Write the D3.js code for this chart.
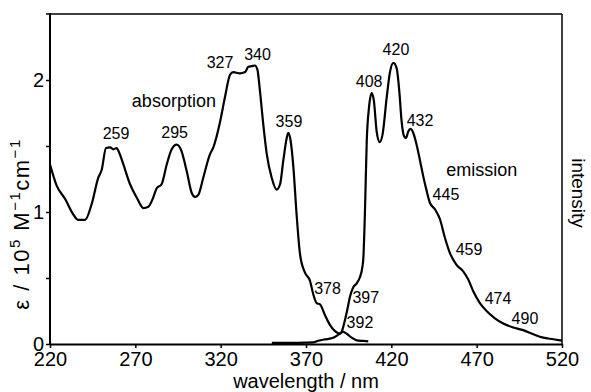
<!DOCTYPE html>
<html>
<head>
<meta charset="utf-8">
<script src="https://cdn.jsdelivr.net/npm/d3@7"></script>
<style>
body { margin: 0; background: #fff; }
text { font-family: "Liberation Sans", Arial, sans-serif; fill: #000; }
</style>
</head>
<body>
<div id="chart"></div>
<script>
// absorption spectrum (epsilon / 10^5 M-1 cm-1)
var absNm  = [220, 223.9, 228.8, 233.7, 236.6, 240.5, 244.4, 248.3, 250.3, 252.8, 255.2, 257.1, 259.1, 260.2,
              263, 266.9, 270.8, 274.7, 277.6, 280.5, 282.5, 285.4, 288.4, 291.3, 294.2, 297.1, 300.1, 303,
              305, 306.9, 309.8, 313.7, 315.7, 319.6, 322.5, 325.5, 327.4, 331.3, 334.3, 336.2, 338.2, 340.1,
              341.5, 343, 345, 347, 349.9, 352.8, 354.8, 356.7, 358.7, 359.6, 361, 362.6, 364.5, 366.5,
              369.4, 372.3, 374.3, 376.2, 378.2, 381.1, 384, 387, 389.9, 391.5, 393.8, 396.8, 399.7, 403.6, 406.5];
var absVal = [1.36, 1.20, 1.10, 0.98, 0.94, 0.94, 1.06, 1.26, 1.32, 1.485, 1.49, 1.475, 1.485, 1.46,
              1.36, 1.21, 1.11, 1.03, 1.04, 1.11, 1.18, 1.21, 1.36, 1.475, 1.51, 1.46, 1.31, 1.146,
              1.114, 1.13, 1.26, 1.437, 1.49, 1.68, 1.87, 2.04, 2.06, 2.05, 2.06, 2.10, 2.105, 2.11,
              2.08, 1.92, 1.66, 1.44, 1.26, 1.17, 1.21, 1.39, 1.56, 1.60, 1.54, 1.34, 0.98, 0.68,
              0.54, 0.48, 0.375, 0.31, 0.30, 0.22, 0.145, 0.098, 0.078, 0.093, 0.078, 0.048, 0.028, 0.023, 0.02];

// emission spectrum (arbitrary intensity, same axis)
var emNm  = [350, 360, 370, 374, 377.2, 381, 385, 388.4, 390.9, 392.8, 394.2, 395.8, 397.7, 399.7, 401.4,
             403, 403.6, 404.6, 405.6, 406.9, 408.5, 409.8, 411.4, 413.2, 414.9, 417.3, 419.2, 421.2, 423.1,
             424.7, 426, 427.4, 428.6, 429.9, 431.3, 432.8, 434.8, 436.8, 438.7, 440.7, 442.6, 445.6, 448.5,
             451.4, 454.3, 458.2, 462.1, 465, 468, 471.9, 475.8, 480.7, 485.6, 491.4, 497.3, 503.2, 509, 514.9, 520];
var emVal = [0.008, 0.008, 0.01, 0.012, 0.025, 0.035, 0.043, 0.066, 0.093, 0.18, 0.26, 0.36, 0.43, 0.46, 0.50,
             0.58, 0.65, 1.03, 1.54, 1.79, 1.90, 1.84, 1.61, 1.53, 1.59, 1.87, 2.06, 2.13, 2.09,
             1.91, 1.69, 1.575, 1.56, 1.61, 1.63, 1.60, 1.51, 1.39, 1.27, 1.16, 1.07, 1.02, 0.945,
             0.805, 0.69, 0.60, 0.55, 0.49, 0.40, 0.31, 0.25, 0.195, 0.155, 0.125, 0.105, 0.074, 0.048, 0.036, 0.025];

// peak annotations, anchored in data units
var peakText = ["259", "295", "327", "340", "359", "378", "392", "397", "408", "420", "432", "445", "459", "474", "490"];
var peakNm   = [258.7, 293, 319.6, 341.6, 360, 382.6, 401.6, 405, 407, 422.7, 436.8, 452, 465.5, 482.5, 498.3];
var peakVal  = [1.60, 1.606, 2.136, 2.197, 1.689, 0.424, 0.167, 0.358, 1.99, 2.235, 1.697, 1.133, 0.72, 0.348, 0.197];

var xTicks = [220, 270, 320, 370, 420, 470, 520];
var yTicks = [0, 0.5, 1, 1.5, 2];
var yLabelled = [0, 1, 2];

var margin = { top: 14, right: 29, bottom: 48, left: 50 },
    width = 591 - margin.left - margin.right,
    height = 392 - margin.top - margin.bottom;

var x = d3.scaleLinear().domain([220, 520]).range([0, width]);
var y = d3.scaleLinear().domain([0, 2.5]).range([height, 0]);

var svg = d3.select("#chart").append("svg")
    .attr("width", width + margin.left + margin.right)
    .attr("height", height + margin.top + margin.bottom);

var g = svg.append("g")
    .attr("transform", "translate(" + margin.left + "," + margin.top + ")");

// frame: top and right
g.append("line")
    .attr("x1", x(220) - 4).attr("x2", x(520))
    .attr("y1", y(2.5)).attr("y2", y(2.5))
    .attr("stroke", "#000").attr("stroke-width", 1.5);
g.append("line")
    .attr("x1", x(520)).attr("x2", x(520))
    .attr("y1", y(2.5)).attr("y2", y(0))
    .attr("stroke", "#000").attr("stroke-width", 1.5);

var xAxis = d3.axisBottom(x)
    .tickValues(xTicks)
    .tickSize(4)
    .tickSizeOuter(0)
    .tickPadding(4)
    .tickFormat(d3.format("d"));

var yAxis = d3.axisLeft(y)
    .tickValues(yTicks)
    .tickSize(4)
    .tickSizeOuter(0)
    .tickPadding(2)
    .tickFormat(function (d) { return yLabelled.indexOf(d) >= 0 ? d : ""; });

var gx = g.append("g")
    .attr("transform", "translate(0," + height + ")")
    .call(xAxis);
var gy = g.append("g")
    .call(yAxis);

gy.select(".domain").attr("d", "M0," + height + "V" + (y(2.5) - 0.75));

[gx, gy].forEach(function (a) {
    a.select(".domain").attr("stroke", "#000").attr("stroke-width", 2);
    a.selectAll(".tick line").attr("stroke", "#000").attr("stroke-width", 1.5);
    a.selectAll(".tick text")
        .attr("fill", "#000")
        .style("font-family", "'Liberation Sans', Arial, sans-serif")
        .style("font-size", "20px");
});

var line = d3.line()
    .x(function (d) { return x(d[0]); })
    .y(function (d) { return y(d[1]); })
    .curve(d3.curveMonotoneX);

var absData = absNm.map(function (d, i) { return [d, absVal[i]]; });
var emData = emNm.map(function (d, i) { return [d, emVal[i]]; });

g.append("path")
    .datum(absData)
    .attr("fill", "none")
    .attr("stroke", "#000")
    .attr("stroke-width", 2.2)
    .attr("stroke-linejoin", "round")
    .attr("d", line);

g.append("path")
    .datum(emData)
    .attr("fill", "none")
    .attr("stroke", "#000")
    .attr("stroke-width", 2.2)
    .attr("stroke-linejoin", "round")
    .attr("d", line);

g.selectAll(".peak")
    .data(peakText)
    .enter().append("text")
    .attr("class", "peak")
    .attr("x", function (d, i) { return x(peakNm[i]); })
    .attr("y", function (d, i) { return y(peakVal[i]); })
    .attr("dy", "0.36em")
    .attr("text-anchor", "middle")
    .style("font-size", "16px")
    .text(function (d) { return d; });

g.append("text")
    .attr("x", x(292.6))
    .attr("y", y(1.795))
    .attr("text-anchor", "middle")
    .style("font-size", "18px")
    .text("absorption");

g.append("text")
    .attr("x", x(473))
    .attr("y", y(1.275))
    .attr("text-anchor", "middle")
    .style("font-size", "18px")
    .text("emission");

// axis titles
svg.append("text")
    .attr("x", margin.left + width / 2)
    .attr("y", 388)
    .attr("text-anchor", "middle")
    .style("font-size", "20px")
    .text("wavelength / nm");

var yt = svg.append("text")
    .attr("transform", "translate(29,224) rotate(-90)")
    .attr("text-anchor", "middle")
    .style("font-size", "22px")
    .style("letter-spacing", "1.5px");
yt.append("tspan").text("\u03b5  /  10");
yt.append("tspan").attr("dy", -9).style("font-size", "15px").text("5");
yt.append("tspan").attr("dy", 9).text(" M");
yt.append("tspan").attr("dy", -9).style("font-size", "15px").text("\u22121");
yt.append("tspan").attr("dy", 9).text("cm");
yt.append("tspan").attr("dy", -9).style("font-size", "15px").text("\u22121");

svg.append("text")
    .attr("transform", "translate(572,193) rotate(90)")
    .attr("text-anchor", "middle")
    .style("font-size", "19px")
    .text("intensity");
</script>
</body>
</html>
